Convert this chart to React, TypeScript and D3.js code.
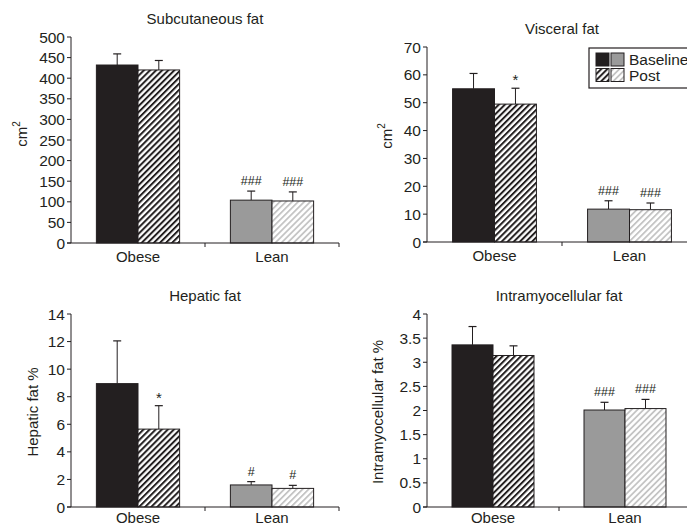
import React from "react";
import * as d3 from "d3";

const groups = ["Obese", "Lean"];
const series = ["Baseline", "Post"];

// rows: Obese, Lean ; columns: Baseline, Post
const subcutaneousMean = [[432, 420], [104, 102]];
const subcutaneousSe = [[27, 23], [22, 22]];
const subcutaneousMarks = [["", ""], ["###", "###"]];
const subcutaneousTicks = [0, 50, 100, 150, 200, 250, 300, 350, 400, 450, 500];

const visceralMean = [[55, 49.5], [11.8, 11.6]];
const visceralSe = [[5.5, 5.7], [3.0, 2.4]];
const visceralMarks = [["", "*"], ["###", "###"]];
const visceralTicks = [0, 10, 20, 30, 40, 50, 60, 70];

const hepaticMean = [[8.95, 5.65], [1.6, 1.35]];
const hepaticSe = [[3.1, 1.7], [0.24, 0.22]];
const hepaticMarks = [["", "*"], ["#", "#"]];
const hepaticTicks = [0, 2, 4, 6, 8, 10, 12, 14];

const imclMean = [[3.36, 3.14], [2.01, 2.04]];
const imclSe = [[0.38, 0.2], [0.16, 0.19]];
const imclMarks = [["", ""], ["###", "###"]];
const imclTicks = [0, 0.5, 1, 1.5, 2, 2.5, 3, 3.5, 4];

const FONT = "'Liberation Sans', Arial, Helvetica, sans-serif";
const INK = "#231f20";

const fills = [
   [INK, "url(#hatchBlack)"],
   ["#9a9a9a", "url(#hatchGray)"],
];

const Panel = ({ title, mean, se, marks, ticks, x0, x1, yTop, yBot, ylabel, ylabelX, ylabelY, labelGap }) => {
   const y = d3
      .scaleLinear()
      .domain([ticks[0], ticks[ticks.length - 1]])
      .range([yBot, yTop]);
   const xg = d3.scaleBand().domain(groups).range([x0, x1]);
   const xs = d3
      .scaleBand()
      .domain(series)
      .range([0, xg.bandwidth()])
      .paddingInner(0)
      .paddingOuter(0.61);

   return (
      <g fontFamily={FONT} fill={INK}>
         <text x={(x0 + x1) / 2} y={yTop - 13} textAnchor="middle" fontSize={15}>
            {title}
         </text>

         {/* bars with upper error bars */}
         {groups.map((g, gi) =>
            series.map((s, si) => {
               const bx = xg(g) + xs(s);
               const w = xs.bandwidth();
               const top = y(mean[gi][si]);
               const errTop = y(mean[gi][si] + se[gi][si]);
               const cx = bx + w / 2;
               const mark = marks[gi][si];
               return (
                  <g key={g + s}>
                     <line x1={cx} x2={cx} y1={top} y2={errTop} stroke={INK} strokeWidth={1} />
                     <line x1={cx - 4} x2={cx + 4} y1={errTop} y2={errTop} stroke={INK} strokeWidth={1.2} />
                     <rect
                        x={bx}
                        y={top}
                        width={w}
                        height={yBot - top}
                        fill={fills[gi][si]}
                        stroke={INK}
                        strokeWidth={1}
                     />
                     {mark && (
                        <text
                           x={cx}
                           y={mark === "*" ? errTop - 3 : errTop - 6}
                           textAnchor="middle"
                           fontSize={mark === "*" ? 15 : 12.5}
                        >
                           {mark}
                        </text>
                     )}
                  </g>
               );
            })
         )}

         {/* y axis */}
         <line x1={x0} x2={x0} y1={yTop} y2={yBot} stroke={INK} strokeWidth={1} />
         {ticks.map((t) => (
            <g key={t}>
               <line x1={x0 - 4} x2={x0} y1={y(t)} y2={y(t)} stroke={INK} strokeWidth={1} />
               <text x={x0 - 6} y={y(t)} dy="0.36em" textAnchor="end" fontSize={15.5}>
                  {String(t)}
               </text>
            </g>
         ))}

         {/* x axis */}
         <line x1={x0 - 4} x2={x1} y1={yBot} y2={yBot} stroke={INK} strokeWidth={1} />
         {groups.map((g) => (
            <g key={g}>
               <line
                  x1={xg(g) + xg.bandwidth()}
                  x2={xg(g) + xg.bandwidth()}
                  y1={yBot}
                  y2={yBot + 4}
                  stroke={INK}
                  strokeWidth={1}
               />
               <text x={xg(g) + xg.bandwidth() / 2} y={yBot + labelGap} textAnchor="middle" fontSize={15}>
                  {g}
               </text>
            </g>
         ))}

         {/* y label */}
         <text
            transform={`translate(${ylabelX},${ylabelY}) rotate(-90)`}
            textAnchor="middle"
            fontSize={15}
         >
            {ylabel === "cm2" ? (
               <>
                  cm
                  <tspan fontSize={10} dy={-7}>
                     2
                  </tspan>
               </>
            ) : (
               ylabel
            )}
         </text>
      </g>
   );
};

const Legend = ({ x, y }) => (
   <g fontFamily={FONT} fill={INK}>
      <rect x={x} y={y} width={110} height={40} fill="white" stroke={INK} strokeWidth={1.2} />
      {series.map((s, si) => (
         <g key={s}>
            <rect x={x + 7} y={y + 5 + si * 15.5} width={13} height={13} fill={fills[0][si]} stroke={INK} />
            <rect x={x + 22} y={y + 5 + si * 15.5} width={13} height={13} fill={fills[1][si]} stroke={INK} />
            <text x={x + 40} y={y + 11.5 + si * 15.5} dy="0.36em" fontSize={15.5}>
               {s}
            </text>
         </g>
      ))}
   </g>
);

export default function App() {
   return (
      <svg
         width={687}
         height={527}
         style={{ position: "absolute", left: 0, top: 0, background: "white" }}
      >
         <defs>
            <pattern
               id="hatchBlack"
               patternUnits="userSpaceOnUse"
               width={4.3}
               height={4.3}
               patternTransform="rotate(45)"
            >
               <rect width={4.3} height={4.3} fill="white" />
               <rect width={2} height={4.3} fill={INK} />
            </pattern>
            <pattern
               id="hatchGray"
               patternUnits="userSpaceOnUse"
               width={4.3}
               height={4.3}
               patternTransform="rotate(45)"
            >
               <rect width={4.3} height={4.3} fill="white" />
               <rect width={1.8} height={4.3} fill="#c4c4c4" />
            </pattern>
         </defs>
         <rect width={687} height={527} fill="white" />

         <Panel
            title="Subcutaneous fat"
            mean={subcutaneousMean}
            se={subcutaneousSe}
            marks={subcutaneousMarks}
            ticks={subcutaneousTicks}
            x0={71}
            x1={339}
            yTop={37}
            yBot={243}
            ylabel="cm2"
            ylabelX={27}
            ylabelY={134}
            labelGap={19}
         />
         <Panel
            title="Visceral fat"
            mean={visceralMean}
            se={visceralSe}
            marks={visceralMarks}
            ticks={visceralTicks}
            x0={427}
            x1={697}
            yTop={47}
            yBot={242}
            ylabel="cm2"
            ylabelX={392}
            ylabelY={136}
            labelGap={19}
         />
         <Panel
            title="Hepatic fat"
            mean={hepaticMean}
            se={hepaticSe}
            marks={hepaticMarks}
            ticks={hepaticTicks}
            x0={71}
            x1={339}
            yTop={314}
            yBot={507}
            ylabel="Hepatic fat %"
            ylabelX={38}
            ylabelY={412}
            labelGap={16}
         />
         <Panel
            title="Intramyocellular fat"
            mean={imclMean}
            se={imclSe}
            marks={imclMarks}
            ticks={imclTicks}
            x0={427}
            x1={691}
            yTop={314}
            yBot={507}
            ylabel="Intramyocellular fat %"
            ylabelX={383}
            ylabelY={412}
            labelGap={16}
         />
         <Legend x={589} y={48} />
      </svg>
   );
}
